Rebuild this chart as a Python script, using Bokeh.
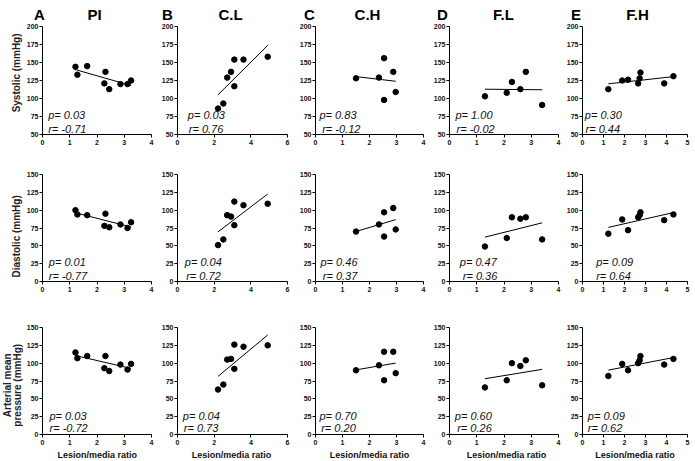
import numpy as np
from bokeh.plotting import figure
from bokeh.models import Range1d, FixedTicker, Label
from bokeh.layouts import row, column
from bokeh.embed import file_html
from bokeh.resources import INLINE

# ---------------- data ----------------
panel_letters = ["A", "B", "C", "D", "E"]
panel_titles = ["PI", "C.L", "C.H", "F.L", "F.H"]
row_labels = [["Systolic (mmHg)"], ["Diastolic (mmHg)"], ["Arterial mean", "pressure (mmHg)"]]
x_label = "Lesion/media ratio"

ratio_pi = [1.21, 1.28, 1.64, 2.31, 2.27, 2.45, 2.86, 3.12, 3.25]
ratio_cl = [2.21, 2.50, 2.71, 2.92, 3.10, 3.10, 3.60, 4.92]
ratio_ch = [1.50, 2.35, 2.54, 2.54, 2.88, 2.97]
ratio_fl = [1.30, 2.10, 2.29, 2.60, 2.80, 3.40]
ratio_fh = [1.23, 1.89, 2.17, 2.65, 2.72, 2.76, 3.89, 4.33]

sys_pi = [144, 133, 145, 137, 121, 113, 120, 120, 125]
sys_cl = [86, 93, 129, 137, 154, 117, 154, 158]
sys_ch = [128, 129, 156, 98, 137, 109]
sys_fl = [103, 108, 123, 113, 137, 91]
sys_fh = [113, 125, 126, 121, 128, 136, 121, 131]

dia_pi = [100, 94, 93, 95, 78, 76, 80, 75, 83]
dia_cl = [51, 59, 93, 91, 112, 79, 107, 109]
dia_ch = [70, 80, 97, 63, 103, 73]
dia_fl = [49, 61, 90, 88, 90, 59]
dia_fh = [67, 87, 72, 90, 93, 97, 86, 94]

map_pi = [115, 107, 110, 110, 93, 89, 98, 91, 99]
map_cl = [63, 70, 105, 106, 126, 92, 123, 125]
map_ch = [90, 97, 116, 76, 116, 86]
map_fl = [66, 76, 100, 96, 104, 69]
map_fh = [82, 99, 90, 100, 104, 110, 98, 106]

p_values = [["0.03", "0.03", "0.83", "1.00", "0.30"],
            ["0.01", "0.04", "0.46", "0.47", "0.09"],
            ["0.03", "0.04", "0.70", "0.60", "0.09"]]
r_values = [["-0.71", "0.76", "-0.12", "-0.02", "0.44"],
            ["-0.77", "0.72", "0.37", "0.36", "0.64"],
            ["-0.72", "0.73", "0.20", "0.26", "0.62"]]

x_ticks = [[0, 1, 2, 3, 4], [0, 2, 4, 6], [0, 1, 2, 3, 4], [0, 1, 2, 3, 4], [0, 1, 2, 3, 4, 5]]
y_ticks_sys = [50, 75, 100, 125, 150, 175, 200]
y_ticks_other = [0, 25, 50, 75, 100, 125, 150]

ratios = [ratio_pi, ratio_cl, ratio_ch, ratio_fl, ratio_fh]
values = [[sys_pi, sys_cl, sys_ch, sys_fl, sys_fh],
          [dia_pi, dia_cl, dia_ch, dia_fl, dia_fh],
          [map_pi, map_cl, map_ch, map_fl, map_fh]]
y_ticks = [y_ticks_sys, y_ticks_other, y_ticks_other]

# ---------------- layout constants ----------------
FONT = "Liberation Sans"
TOTAL_W = 695
LBL_W = 23
col_w = [135, 138, 134, 133, 132]
col_bl = [19, 19, 19, 19, 19]
col_br = [7, 9, 7, 5, 8]
TITLE_H = 22
XLBL_H = 14
row_h = [128, 147, 150]
row_bt = [4, 24, 30]
row_bb = [16, 16, 13]

p_dx = [[5.7, 10.3, 4, 6, 2.3], [6.3, 7.3, 5, 10.3, 13.7], [7, 5.3, 4, 5.3, 5.3]]
r_dx = [[5.7, 11.3, 6.7, 7, 3], [6.3, 8.7, 7.3, 13.3, 13.7], [7, 6.3, 5.7, 7.7, 5.3]]
p_dy = [13.7, 14, 13]
r_dy = [0, 0, 0.4]
letter_x = [39, 167, 309, 442, 575.5]
title_x = [94, 230, 367, 503, 637]
xlabel_x = [96.7, 231, 369, 506, 634.5]
ylabel_x = [[16], [16], [7, 17]]
ylabel_y = [73, 62, 69]


def strip(width, height):
    s = figure(width=width, height=height, output_backend="svg", toolbar_location=None,
               title=None, x_range=Range1d(0, width), y_range=Range1d(0, height),
               x_axis_location=None, y_axis_location=None,
               min_border_left=0, min_border_right=0, min_border_top=0, min_border_bottom=0)
    s.outline_line_color = None
    s.xgrid.visible = False
    s.ygrid.visible = False
    s.background_fill_color = "white"
    s.border_fill_color = "white"
    return s


# title strip
title_fig = strip(TOTAL_W, TITLE_H)
for j in range(5):
    for tx, txt in ((letter_x[j], panel_letters[j]), (title_x[j], panel_titles[j])):
        title_fig.add_layout(Label(x=tx, y=8.5, text=txt, text_font=FONT, text_font_size="15px",
                                   text_font_style="bold", text_color="black",
                                   text_align="center", text_baseline="middle"))

rows = [title_fig]
for i in range(3):
    lf = strip(LBL_W, row_h[i])
    for lx, txt in zip(ylabel_x[i], row_labels[i]):
        lf.add_layout(Label(x=lx, y=ylabel_y[i], text=txt, text_font=FONT, text_font_size="10px",
                            text_font_style="bold", text_color="#222222",
                            angle=90, angle_units="deg",
                            text_align="center", text_baseline="middle"))
    figs = [lf]
    for j in range(5):
        yt = y_ticks[i]
        p = figure(width=col_w[j], height=row_h[i], output_backend="svg",
                   toolbar_location=None, title=None,
                   x_range=Range1d(x_ticks[j][0], x_ticks[j][-1]),
                   y_range=Range1d(yt[0], yt[-1]),
                   min_border_left=col_bl[j], min_border_right=col_br[j],
                   min_border_top=row_bt[i], min_border_bottom=row_bb[i])
        p.outline_line_color = None
        p.xgrid.visible = False
        p.ygrid.visible = False
        p.background_fill_color = "white"
        p.border_fill_color = "white"
        p.xaxis.ticker = FixedTicker(ticks=x_ticks[j])
        p.yaxis.ticker = FixedTicker(ticks=yt)
        for ax, stand in ((p.xaxis, 2), (p.yaxis, 1)):
            ax.axis_line_color = "black"
            ax.axis_line_width = 1
            ax.major_tick_line_color = "black"
            ax.major_tick_out = 3
            ax.major_tick_in = 0
            ax.minor_tick_line_color = None
            ax.major_label_text_font = FONT
            ax.major_label_text_font_size = "7px"
            ax.major_label_text_font_style = "bold"
            ax.major_label_text_color = "#111111"
            ax.major_label_standoff = stand

        xs = ratios[j]
        ys = values[i][j]
        slope, intercept = np.polyfit(xs, ys, 1)
        x0, x1 = min(xs), max(xs)
        p.line([x0, x1], [slope * x0 + intercept, slope * x1 + intercept],
               line_color="black", line_width=1)
        p.scatter(xs, ys, size=5.5, fill_color="black", line_color="black")

        p.add_layout(Label(x=p_dx[i][j], y=p_dy[i], x_units="screen", y_units="screen",
                           text="p= " + p_values[i][j], text_font=FONT, text_font_size="11px",
                           text_font_style="italic", text_color="#111111",
                           text_align="left", text_baseline="bottom"))
        p.add_layout(Label(x=r_dx[i][j], y=r_dy[i], x_units="screen", y_units="screen",
                           text="r= " + r_values[i][j], text_font=FONT, text_font_size="11px",
                           text_font_style="italic", text_color="#111111",
                           text_align="left", text_baseline="bottom"))
        figs.append(p)
    rows.append(row(*figs))

xlabel_fig = strip(TOTAL_W, XLBL_H)
for j in range(5):
    xlabel_fig.add_layout(Label(x=xlabel_x[j], y=7, text=x_label, text_font=FONT,
                                text_font_size="9px", text_font_style="bold",
                                text_color="#111111", text_align="center",
                                text_baseline="middle"))
rows.append(xlabel_fig)

layout = column(*rows)
open("out.html", "w").write(file_html(layout, INLINE))
